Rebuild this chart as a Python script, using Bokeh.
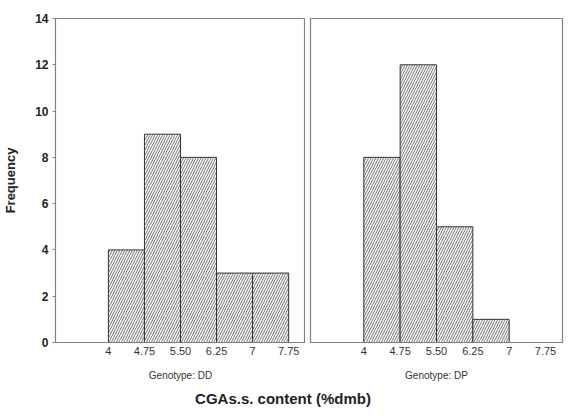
from bokeh.plotting import figure
from bokeh.models import FixedTicker, Div
from bokeh.layouts import row, column
from bokeh.embed import file_html
from bokeh.resources import INLINE

# ---- data ----
bin_left = [4, 4.75, 5.5, 6.25, 7]
bin_right = [4.75, 5.5, 6.25, 7, 7.75]
dd_counts = [4, 9, 8, 3, 3]
dp_counts = [8, 12, 5, 1, 0]
x_ticks = [4, 4.75, 5.5, 6.25, 7, 7.75]
x_tick_labels = ["4", "4.75", "5.50", "6.25", "7", "7.75"]
y_ticks = [0, 2, 4, 6, 8, 10, 12, 14]
panel_labels = ["Genotype: DD", "Genotype: DP"]
y_label = "Frequency"
x_title = "CGAs.s. content (%dmb)"

FONT = "Liberation Sans"
GRAY = "#808080"


def make_panel(counts, label, first):
    p = figure(
        frame_width=250 if first else 252,
        frame_height=324,
        x_range=(2.9, 8.1),
        y_range=(0, 14),
        output_backend="svg",
        toolbar_location=None,
        y_axis_location="left" if first else None,
        min_border_left=50 if first else 5,
        min_border_right=0 if first else 2,
        min_border_top=18,
        min_border_bottom=10,
    )
    p.xgrid.visible = False
    p.ygrid.visible = False
    p.outline_line_color = GRAY
    p.outline_line_width = 1.2
    p.background_fill_color = "white"
    p.border_fill_color = "white"

    xa = p.xaxis[0]
    xa.ticker = FixedTicker(ticks=x_ticks)
    xa.major_label_overrides = {t: s for t, s in zip(x_ticks, x_tick_labels)}
    xa.major_label_text_font = FONT
    xa.major_label_text_font_size = "11px"
    xa.major_label_text_color = "#333333"
    xa.major_label_standoff = 4
    xa.major_tick_out = 0
    xa.major_tick_in = 0
    xa.minor_tick_out = 0
    xa.axis_line_color = GRAY
    xa.axis_label = label
    xa.axis_label_text_font = FONT
    xa.axis_label_text_font_size = "10px"
    xa.axis_label_text_font_style = "normal"
    xa.axis_label_text_color = "#333333"
    xa.axis_label_standoff = 12

    if first:
        ya = p.yaxis[0]
        ya.ticker = FixedTicker(ticks=y_ticks)
        ya.axis_line_color = GRAY
        ya.major_tick_line_color = GRAY
        ya.minor_tick_out = 0
        ya.minor_tick_in = 0
        ya.major_label_text_font = FONT
        ya.major_label_text_font_size = "12px"
        ya.major_label_text_font_style = "bold"
        ya.major_label_text_color = "#222222"
        ya.major_tick_out = 3
        ya.major_tick_in = 0
        ya.major_label_standoff = 4
        ya.axis_label = y_label
        ya.axis_label_text_font = FONT
        ya.axis_label_text_font_size = "13px"
        ya.axis_label_text_font_style = "bold"
        ya.axis_label_text_color = "#222222"
        ya.axis_label_standoff = 14

    left = [l for l, c in zip(bin_left, counts) if c > 0]
    right = [r for r, c in zip(bin_right, counts) if c > 0]
    top = [c for c in counts if c > 0]
    p.quad(left=left, right=right, bottom=0, top=top,
           fill_color="white", line_color="#333333", line_width=1,
           hatch_pattern="/", hatch_color="#555555", hatch_scale=5,
           hatch_weight=0.85)
    return p


p1 = make_panel(dd_counts, panel_labels[0], True)
p2 = make_panel(dp_counts, panel_labels[1], False)

title = Div(text=x_title, width=556, height=22,
            styles={"text-align": "center", "font-weight": "bold",
                    "font-size": "15px", "font-family": FONT,
                    "color": "#222222", "width": "556px"})

layout = column(row(p1, p2), title)

open("out.html", "w").write(file_html(layout, INLINE))
